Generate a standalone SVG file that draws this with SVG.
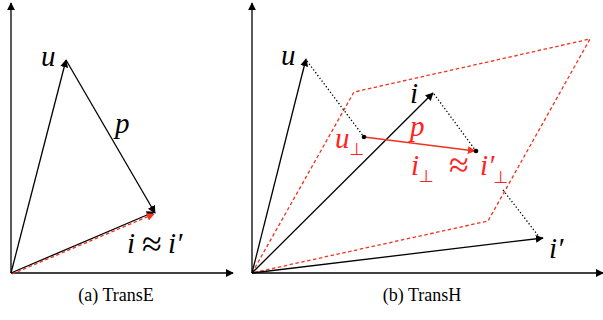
<svg xmlns="http://www.w3.org/2000/svg" width="603" height="320" viewBox="0 0 603 320">
<defs>
<style>
.ax{stroke:#000;stroke-width:1.3;fill:none}
.v{stroke:#000;stroke-width:1.3;fill:none}
.rd{stroke:#f0321e;stroke-width:1.3;fill:none;stroke-dasharray:3.5,2.5}
.rs{stroke:#f0321e;stroke-width:1.4;fill:none}
.dt{stroke:#000;stroke-width:1.3;fill:none;stroke-dasharray:1.3,2.2}
.m{font-family:"Liberation Serif","DejaVu Serif",serif;font-style:italic;font-size:29px;fill:#000}
.mr{font-family:"Liberation Serif","DejaVu Serif",serif;font-style:italic;font-size:29px;fill:#f22}
.sub{font-family:"DejaVu Sans","Liberation Serif",sans-serif;font-style:normal;font-size:17px;fill:#f22}
.op{font-family:"Liberation Serif","DejaVu Serif",serif;font-style:normal;font-size:36px;text-anchor:middle}
.cap{font-family:"Liberation Serif","Times New Roman",serif;font-size:18px;fill:#000}
</style>
<marker id="ab" viewBox="0 0 10 10" refX="9" refY="5" markerWidth="8" markerHeight="8" markerUnits="userSpaceOnUse" orient="auto"><path d="M0,0 L10,5 L0,10 z" fill="#000"/></marker>
<marker id="ar" viewBox="0 0 10 10" refX="9" refY="5" markerWidth="8" markerHeight="8" markerUnits="userSpaceOnUse" orient="auto"><path d="M0,0 L10,5 L0,10 z" fill="#f0321e"/></marker>
</defs>

<g id="connectors">
<line class="ax" x1="11" y1="273" x2="11" y2="3" marker-end="url(#ab)"/>
<line class="ax" x1="11" y1="273" x2="233" y2="273" marker-end="url(#ab)"/>
<line class="v" x1="11" y1="273" x2="66" y2="60" marker-end="url(#ab)"/>
<line class="v" x1="66" y1="60" x2="155" y2="213" marker-end="url(#ab)"/>
<line class="v" x1="11" y1="273" x2="154" y2="212" marker-end="url(#ab)"/>
<line class="rd" x1="12" y1="274" x2="154" y2="214" marker-end="url(#ar)"/>
<line class="ax" x1="252" y1="273" x2="252" y2="3" marker-end="url(#ab)"/>
<line class="ax" x1="252" y1="273" x2="603" y2="273" marker-end="url(#ab)"/>
<polygon class="rd" points="252,273 354,92 590,39 488,221" stroke-linejoin="round"/>
<line class="v" x1="252" y1="273" x2="306" y2="59" marker-end="url(#ab)"/>
<line class="v" x1="252" y1="273" x2="433" y2="93" marker-end="url(#ab)"/>
<line class="v" x1="252" y1="273" x2="543" y2="238" marker-end="url(#ab)"/>
<line class="dt" x1="307" y1="61" x2="364" y2="137"/>
<line class="dt" x1="434" y1="94" x2="476" y2="151"/>
<line class="dt" x1="503" y1="190" x2="540" y2="238"/>
<line class="rs" x1="364" y1="137" x2="475" y2="151" marker-end="url(#ar)"/>
<circle cx="364" cy="137" r="2.3" fill="#000"/>
<circle cx="476" cy="151" r="2.3" fill="#000"/>
</g>

<g id="node-a-u"><text class="m" x="41" y="66">u</text></g>
<g id="node-a-p"><text class="m" x="115" y="133">p</text></g>
<g id="node-a-i"><text class="m" x="127" y="253">i</text><text class="op" x="152" y="256">≈</text><text class="m" x="168" y="253">i′</text></g>
<g id="caption-a"><text class="cap" x="116" y="301" text-anchor="middle">(a)  TransE</text></g>

<g id="node-b-u"><text class="m" x="281" y="65">u</text></g>
<g id="node-b-i"><text class="m" x="410" y="103">i</text></g>
<g id="node-b-ip"><text class="m" x="549" y="258">i′</text></g>
<g id="node-b-uperp"><text class="mr" x="335" y="148">u<tspan class="sub" dy="7">⊥</tspan></text></g>
<g id="node-b-p"><text class="mr" x="410" y="136">p</text></g>
<g id="node-b-iperp"><text class="mr" x="411" y="175">i<tspan class="sub" dy="7">⊥</tspan></text><text class="op" x="459" y="177" fill="#f22">≈</text><text class="mr" x="480" y="175">i′<tspan class="sub" dx="-1" dy="8">⊥</tspan></text></g>
<g id="caption-b"><text class="cap" x="422" y="301" text-anchor="middle">(b)  TransH</text></g>
</svg>
